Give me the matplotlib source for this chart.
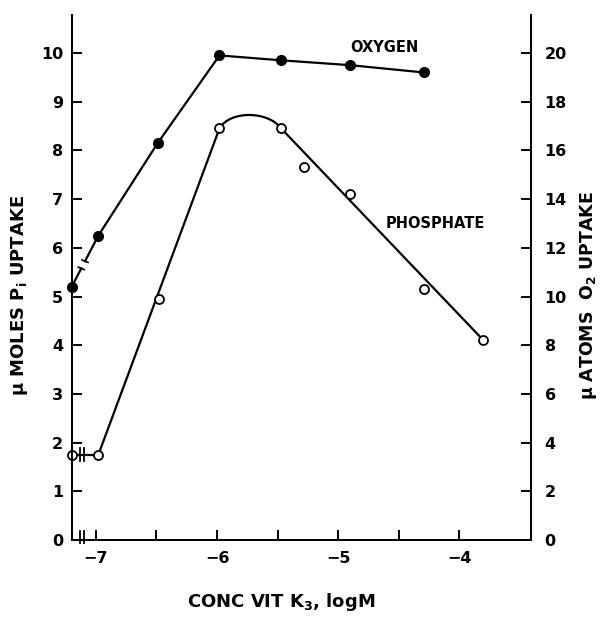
import matplotlib
matplotlib.use("Agg")
import matplotlib.pyplot as plt
from matplotlib.path import Path
from matplotlib.patches import PathPatch

# log molar concentration of vitamin K3 (control placed on the axis at -7.2)
conc_o2 = [-7.2, -6.98, -6.49, -5.98, -5.47, -4.9, -4.29]
o2_uptake = [10.4, 12.5, 16.3, 19.9, 19.7, 19.5, 19.2]  # micro atoms O2

conc_pi = [-7.2, -6.98, -6.48, -5.98, -5.47, -5.28, -4.9, -4.29, -3.8]
pi_uptake = [1.75, 1.75, 4.95, 8.45, 8.45, 7.65, 7.1, 5.15, 4.1]  # micro moles Pi

pi_peak = (-5.736, 8.727)  # top of the hand drawn hump between -6 and -5.5

x_ticks = [-7, -6.5, -6, -5.5, -5, -4.5, -4]
x_ticklabels = ["\u22127", "", "\u22126", "", "\u22125", "", "\u22124"]
left_ticks = list(range(0, 11))
right_ticks = list(range(0, 21, 2))

plt.rcParams['font.family'] = ['DejaVu Sans']
plt.rcParams['mathtext.default'] = 'regular'
fig = plt.figure(figsize=(6.0, 6.18), dpi=100)
ax = fig.add_axes([0.1195, 0.1262, 0.765, 0.8495])
ax2 = ax.twinx()

ax.set_xlim(-7.2, -3.41)
ax.set_ylim(0, 10.78)
ax2.set_ylim(0, 21.56)

lw = 1.6
# oxygen: broken segment between control and first dose
x0, y0 = conc_o2[0], o2_uptake[0]
x1, y1 = conc_o2[1], o2_uptake[1]
for a, b in [(0.0, 0.36), (0.5, 1.0)]:
    ax2.plot([x0 + a * (x1 - x0), x0 + b * (x1 - x0)],
             [y0 + a * (y1 - y0), y0 + b * (y1 - y0)], color='black', lw=lw, clip_on=False)
for t in (0.36, 0.5):
    xm, ym = x0 + t * (x1 - x0), y0 + t * (y1 - y0)
    ax2.plot([xm - 0.025, xm + 0.025], [ym + 0.05, ym - 0.05], color='black', lw=1.2)
ax2.plot(conc_o2[1:], o2_uptake[1:], color='black', lw=lw)
ax2.plot(conc_o2, o2_uptake, 'o', color='black', ms=7, clip_on=False, zorder=5)

# phosphate: rising leg, rounded top, falling leg
ax.plot(conc_pi[:2], pi_uptake[:2], color='black', lw=lw, clip_on=False)
ax.plot([conc_pi[1], conc_pi[3]], [pi_uptake[1], pi_uptake[3]], color='black', lw=lw)
px, py = pi_peak
hump = Path([(conc_pi[3], pi_uptake[3]),
             (px - 0.16, py + 0.093),
             (px + 0.156, py + 0.093),
             (conc_pi[4], pi_uptake[4])],
            [Path.MOVETO, Path.CURVE4, Path.CURVE4, Path.CURVE4])
ax.add_patch(PathPatch(hump, fill=False, lw=lw, edgecolor='black'))
ax.plot([conc_pi[4], conc_pi[-1]], [pi_uptake[4], pi_uptake[-1]], color='black', lw=lw)
ax.plot(conc_pi, pi_uptake, 'o', mfc='white', mec='black', mew=1.3, ms=6.5,
        clip_on=False, zorder=5)

# break marks on the axis and on the phosphate line
for xb in (-7.13, -7.095):
    ax.plot([xb, xb], [-0.07, 0.18], color='black', lw=1.3, clip_on=False)
    ax.plot([xb, xb], [pi_uptake[0] - 0.13, pi_uptake[0] + 0.13], color='black', lw=1.3)

ax.text(-4.9, 10.12, "OXYGEN", fontsize=10.5, fontweight='bold', va='center', ha='left')
ax.text(-4.61, 6.49, "PHOSPHATE", fontsize=10.5, fontweight='bold', va='center', ha='left')

for a in (ax, ax2):
    a.spines['top'].set_visible(False)
    for s in a.spines.values():
        s.set_linewidth(1.4)

ax.set_xticks(x_ticks)
ax.set_xticklabels(x_ticklabels)
ax.set_yticks(left_ticks)
ax2.set_yticks(right_ticks)
ax.tick_params(axis='x', direction='in', length=7, width=1.4, pad=8, labelsize=11.5)
ax.tick_params(axis='y', direction='in', length=7, width=1.4, pad=6, labelsize=11.5)
ax2.tick_params(axis='y', direction='in', length=7, width=1.4, pad=10, labelsize=11.5)
for lab in ax.get_xticklabels() + ax.get_yticklabels() + ax2.get_yticklabels():
    lab.set_fontweight('bold')

ax.set_xlabel("CONC VIT K$_3$, logM", fontsize=13, fontweight='bold')
ax.set_ylabel("\u03bc MOLES P$_i$ UPTAKE", fontsize=13, fontweight='bold')
ax2.set_ylabel("\u03bc ATOMS  O$_2$ UPTAKE", fontsize=12.5, fontweight='bold')
ax.xaxis.set_label_coords(0.457, -0.097)
ax.yaxis.set_label_coords(-0.0915, 0.465)
ax2.yaxis.set_label_coords(1.103, 0.465)

fig.savefig("out.png", dpi=100)
